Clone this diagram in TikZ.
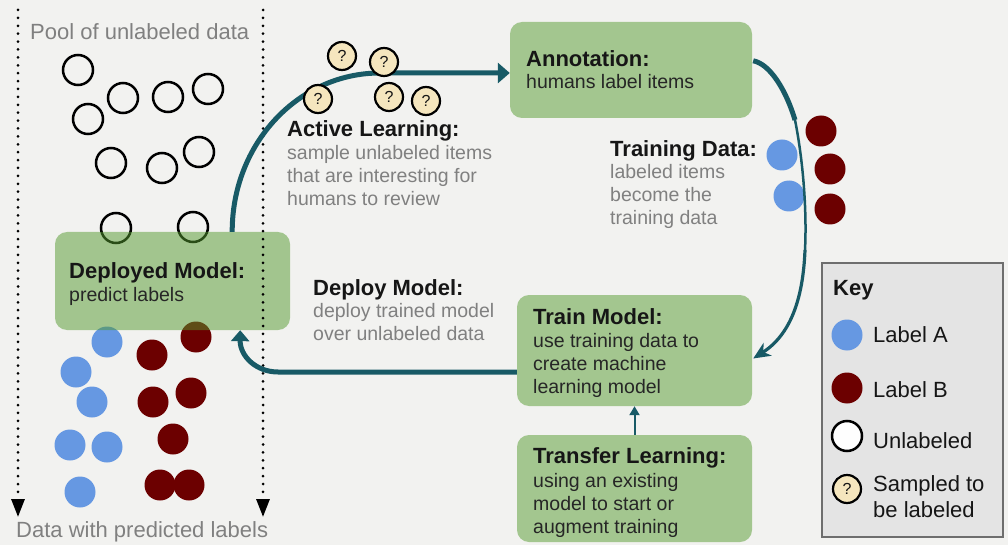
\documentclass[tikz,border=0pt]{standalone}
\usepackage{fontspec}
\setmainfont{Liberation Sans}
\usetikzlibrary{arrows.meta,calc}
\definecolor{bgcol}{RGB}{242,242,240}
\definecolor{boxgreen}{RGB}{163,198,143}
\definecolor{deepgreen}{RGB}{84,154,46}
\definecolor{arrowteal}{RGB}{24,90,102}
\definecolor{labA}{RGB}{102,152,226}
\definecolor{labB}{RGB}{108,0,0}
\definecolor{qfill}{RGB}{245,230,190}
\definecolor{keyfill}{RGB}{228,228,228}
\definecolor{keyline}{RGB}{110,110,110}
\definecolor{desc}{RGB}{128,128,128}
\definecolor{hdrcol}{RGB}{22,22,22}
\definecolor{bodycol}{RGB}{38,38,38}
\begin{document}
\begin{tikzpicture}[x=1pt,y=-1pt,
  hdr/.style={anchor=base west, inner sep=0pt, font=\fontsize{22}{26}\selectfont\bfseries, text=hdrcol},
  body/.style={anchor=base west, inner sep=0pt, align=left, font=\fontsize{19.5}{23}\selectfont, text=bodycol},
  descbody/.style={body, text=desc},
  caption/.style={anchor=base west, inner sep=0pt, font=\fontsize{22}{26}\selectfont, text=desc},
  keytext/.style={anchor=base west, inner sep=0pt, align=left, font=\fontsize{22}{26}\selectfont, text=hdrcol},
  stagebox/.style={rounded corners=12pt, fill=boxgreen, inner sep=0pt},
  unl/.style={circle, draw=black, line width=2.5pt, minimum size=30pt, inner sep=0pt},
  ptA/.style={circle, fill=labA, minimum size=31pt, inner sep=0pt},
  ptB/.style={circle, fill=labB, minimum size=31pt, inner sep=0pt},
  qmark/.style={circle, draw=black, line width=2.2pt, fill=qfill, minimum size=28pt, inner sep=0pt, font=\fontsize{16}{16}\selectfont, text=hdrcol},
  flow/.style={draw=arrowteal, line width=5pt},
  dotline/.style={draw=black, line width=3pt, line cap=round, dash pattern=on 0pt off 7.9pt}
]
\useasboundingbox (0,0) rectangle (1008,545);
\fill[bgcol] (0,0) rectangle (1008,545);

% unlabeled pool
\node[unl] (u1) at (78,70) {};
\node[unl] (u2) at (123,98) {};
\node[unl] (u3) at (168,97) {};
\node[unl] (u4) at (208,89) {};
\node[unl] (u5) at (88,119) {};
\node[unl] (u6) at (111,163) {};
\node[unl] (u7) at (162,168) {};
\node[unl] (u8) at (199,152) {};
\node[unl] (u9) at (116,228) {};
\node[unl] (u10) at (193,227) {};

% predicted labels
\node[ptA] (a1) at (107,342) {};
\node[ptA] (a2) at (76,372) {};
\node[ptA] (a3) at (92,402) {};
\node[ptA] (a4) at (70,445) {};
\node[ptA] (a5) at (107,447) {};
\node[ptA] (a6) at (80,492) {};
\node[ptB] (b1) at (152,355) {};
\node[ptB] (b2) at (196,337) {};
\node[ptB] (b3) at (153,402) {};
\node[ptB] (b4) at (191,393) {};
\node[ptB] (b5) at (173,439) {};
\node[ptB] (b6) at (160,485) {};
\node[ptB] (b7) at (189,485) {};

% boxes
\node[stagebox, fill=deepgreen, fill opacity=0.5, minimum width=235pt, minimum height=98pt] (deployed) at (172.5,281) {};
\node[stagebox, minimum width=242pt, minimum height=96pt] (annot) at (631,70) {};
\node[stagebox, minimum width=235pt, minimum height=111pt] (train) at (634.5,350.5) {};
\node[stagebox, minimum width=235pt, minimum height=107pt] (transfer) at (634.5,488.5) {};

% dotted guides
\coordinate (lt) at (18,10);
\coordinate (lb) at (18,517);
\coordinate (rt) at (263,10);
\coordinate (rb) at (263,517);
\draw[dotline, -{Triangle[length=18pt,width=13pt]}] (lt) -- (lb);
\draw[dotline, -{Triangle[length=18pt,width=13pt]}] (rt) -- (rb);
\node[caption] (pool) at (30,40) {Pool of unlabeled data};
\node[caption] (predicted) at (16,537) {Data with predicted labels};

% box texts (multi-line nodes anchored at the baseline of their last line)
\node[hdr] (deph) at (69,278) {Deployed Model:};
\node[body] (depb) at (69,301) {predict labels};
\node[hdr] (annh) at (526,67) {Annotation:};
\node[body] (annb) at (526,89) {humans label items};
\node[hdr] (trh) at (533,324) {Train Model:};
\node[body] (trb) at (533,393) {use training data to\\create machine\\learning model};
\node[hdr] (tfh) at (533,463) {Transfer Learning:};
\node[body] (tfb) at (533,533) {using an existing\\model to start or\\augment training};

% description texts
\node[hdr] (alh) at (287,137) {Active Learning:};
\node[descbody] (alb) at (287,206) {sample unlabeled items\\that are interesting for\\humans to review};
\node[hdr] (tdh) at (610,157) {Training Data:};
\node[descbody] (tdb) at (610,225) {labeled items\\become the\\training data};
\node[hdr] (dmh) at (313,295) {Deploy Model:};
\node[descbody] (dmb) at (313,340) {deploy trained model\\over unlabeled data};

% connectors
\draw[flow, -{Triangle[length=12pt,width=20pt]}] ($(deployed.north east)+(-58,0)$) .. controls (232,144) and (298,73) .. (380,73) -- ($(annot.west)+(0,3)$);
\draw[flow, -{Triangle[length=11pt,width=18pt]}] ($(train.west)+(0,21.5)$) -- (278,372) .. controls (256,372) and (240,356) .. ($(deployed.south east)+(-50,0)$);
\draw[draw=arrowteal, line width=2pt, -{Triangle[length=9pt,width=10pt]}] (transfer.north) -- (train.south);

% training data points
\node[ptA] (t1) at (782,155) {};
\node[ptA] (t2) at (789,196) {};
\node[ptB] (t3) at (821,131) {};
\node[ptB] (t4) at (830,169) {};
\node[ptB] (t5) at (830,209) {};

% annotation -> train curved connector (tapered look)
\coordinate (c1) at (795,120);
\coordinate (c2) at (805,250);
\draw[draw=arrowteal, line width=5pt] ($(annot.north east)+(1,39)$) .. controls (770,64) and (786,90) .. (c1);
\draw[draw=arrowteal, line width=2.5pt] (c1) .. controls (803,160) and (807,210) .. (c2);
\draw[draw=arrowteal, line width=3.2pt, -{Stealth[length=17pt,width=15pt,inset=5pt]}] (c2) .. controls (803,300) and (790,335) .. ($(train.east)+(1,8)$);

% sampled items
\node[qmark] (q1) at (342,56) {?};
\node[qmark] (q2) at (384,62) {?};
\node[qmark] (q3) at (318,99) {?};
\node[qmark] (q4) at (389,97) {?};
\node[qmark] (q5) at (426,101) {?};

% key
\node[draw=keyline, line width=1.5pt, fill=keyfill, minimum width=181pt, minimum height=274pt, inner sep=0pt] (key) at (912.5,400) {};
\node[anchor=base west, inner sep=0pt, font=\fontsize{22}{26}\selectfont\bfseries, text=hdrcol] (keyh) at (833,295) {Key};
\node[ptA] (k1) at (847,335) {};
\node[ptB] (k2) at (847,388) {};
\node[unl, fill=white!96!bgcol] (k3) at (847,436) {};
\node[qmark] (k4) at (847,489) {?};
\node[keytext] (kl1) at (873,342) {Label A};
\node[keytext] (kl2) at (873,397) {Label B};
\node[keytext] (kl3) at (873,448) {Unlabeled};
\node[keytext] (kl4) at (873,517) {Sampled to\\be labeled};
\end{tikzpicture}
\end{document}
